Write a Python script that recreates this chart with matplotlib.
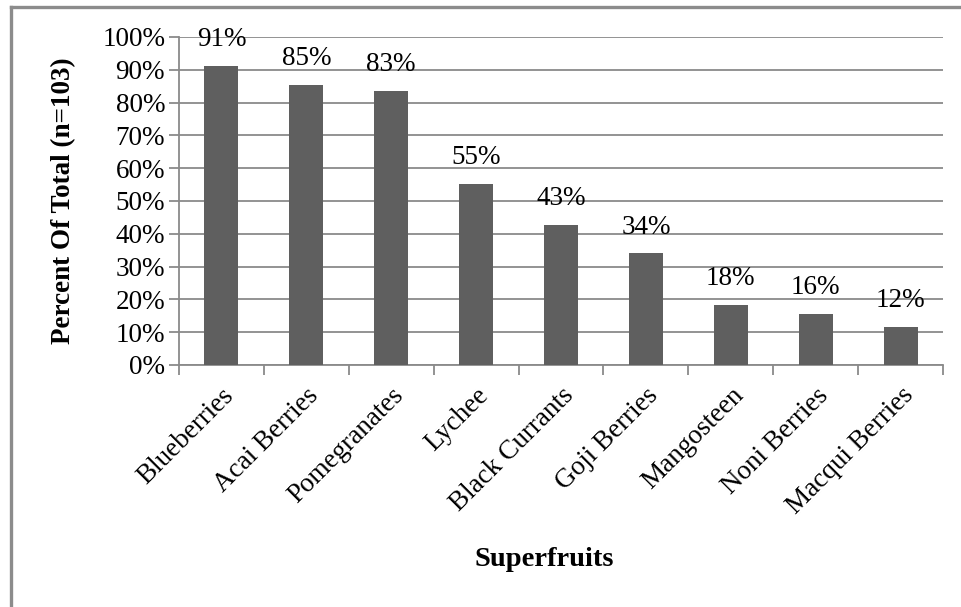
import matplotlib
matplotlib.use("Agg")
import matplotlib.pyplot as plt
from matplotlib.lines import Line2D
import numpy as np

categories = ["Blueberries", "Acai Berries", "Pomegranates", "Lychee", "Black Currants",
              "Goji Berries", "Mangosteen", "Noni Berries", "Macqui Berries"]
values = [91.3, 85.4, 83.5, 55.3, 42.7, 34.0, 18.4, 15.5, 11.7]
labels = ["91%", "85%", "83%", "55%", "43%", "34%", "18%", "16%", "12%"]
yticks = [0, 10, 20, 30, 40, 50, 60, 70, 80, 90, 100]
ytick_labels = [f"{v}%" for v in yticks]

plt.rcParams['font.family'] = ['Liberation Serif', 'DejaVu Serif']

W, H = 961, 607
FS = 19.5
fig = plt.figure(figsize=(W / 100, H / 100), dpi=100)
ax = fig.add_axes([179 / W, 1 - 365 / H, 764 / W, 328 / H])

x = np.arange(len(categories))
ax.bar(x, values, width=0.4, color="#5f5f5f", zorder=3)

for xi, v, lab in zip(x, values, labels):
    ax.annotate(lab, (xi, v), xytext=(0, 10), textcoords="offset points",
                ha="center", va="bottom", fontsize=FS, color="black")

ax.set_xlim(-0.5, len(categories) - 0.5)
ax.set_ylim(0, 100)
ax.set_yticks(yticks)
ax.set_yticklabels(ytick_labels, fontsize=FS)
ax.yaxis.grid(True, color="#8a8a8a", linewidth=1.3, zorder=0)
ax.set_axisbelow(True)

ax.set_xticks(np.arange(len(categories) + 1) - 0.5)
ax.set_xticklabels([])
ax.set_xticks(x, minor=True)
ax.set_xticklabels(categories, minor=True, rotation=45, ha="right",
                   rotation_mode="anchor", fontsize=FS)
ax.tick_params(axis="x", which="minor", length=0, pad=13)
ax.tick_params(axis="x", which="major", length=7, color="#8a8a8a", width=1.3)
ax.tick_params(axis="y", length=7, color="#8a8a8a", width=1.3, pad=3)

for s in ["top", "right"]:
    ax.spines[s].set_visible(False)
for s in ["left", "bottom"]:
    ax.spines[s].set_color("#8a8a8a")
    ax.spines[s].set_linewidth(1.3)

ax.set_ylabel("Percent Of Total (n=103)", fontsize=FS, fontweight="bold", labelpad=19)
fig.text(544 / W, 1 - 560 / H, "Superfruits", fontsize=20.5, fontweight="bold",
         ha="center", va="center")

# outer frame (left and top edges visible)
fig.add_artist(Line2D([10.5 / W, 10.5 / W], [0, 1 - 6.5 / H], transform=fig.transFigure,
                      color="#8c8c8c", linewidth=2.4))
fig.add_artist(Line2D([10.5 / W, 1], [1 - 6.5 / H, 1 - 6.5 / H], transform=fig.transFigure,
                      color="#8c8c8c", linewidth=2.4))

fig.savefig("out.png", dpi=100)
